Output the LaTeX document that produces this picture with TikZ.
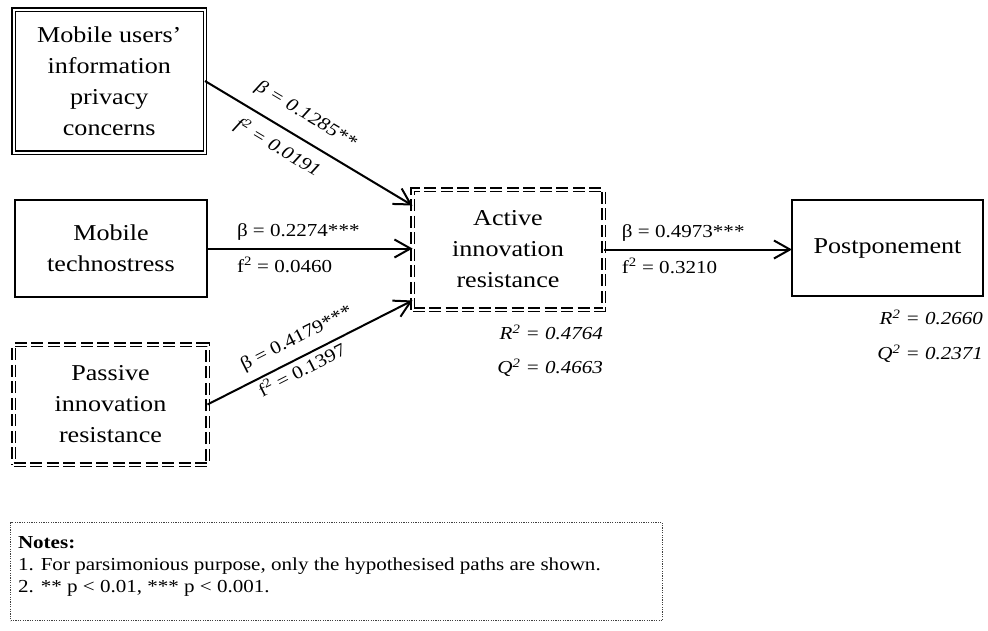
\documentclass[tikz,border=0pt]{standalone}
\usepackage{fontspec}
\setmainfont[FakeStretch=1.15]{Liberation Serif}
\usetikzlibrary{arrows.meta}

\begin{document}
\begin{tikzpicture}[x=1pt, y=-1pt,
  every node/.style={inner sep=0pt, outer sep=0pt},
  construct/.style={draw, line width=1.2pt, align=center,
    font=\fontsize{22.7}{31}\selectfont},
  dblbox/.style={construct, double, double distance=2pt, line width=1.1pt},
  dbldashbox/.style={dblbox, dash pattern=on 12pt off 4.5pt},
  link/.style={line width=2pt, -{Straight Barb[length=16pt,width=18pt]}},
  lbl/.style={font=\fontsize{18.3}{21}\selectfont, text height=13pt, text depth=4pt},
  stat/.style={font=\fontsize{18.3}{21}\selectfont\itshape, anchor=base east},
  notebox/.style={draw=black!75, line width=0.7pt, dash pattern=on 1.2pt off 1.2pt},
]
\useasboundingbox (0,0) rectangle (988,630);

% constructs
\node[dblbox, minimum width=191.5pt, minimum height=143pt] (privacy) at (109.25,81)
  {Mobile users’\\information\\privacy\\concerns};
\node[construct, minimum width=192pt, minimum height=97pt] (techno) at (111,248.5)
  {Mobile\\technostress};
\node[dbldashbox, minimum width=194pt, minimum height=120pt] (passive) at (110.5,404.5)
  {Passive\\innovation\\resistance};
\node[dbldashbox, minimum width=191pt, minimum height=120pt] (active) at (508,249.5)
  {Active\\innovation\\resistance};
\node[construct, minimum width=191pt, minimum height=96pt] (post) at (887.5,248)
  {Postponement};

% structural paths
\draw[link] (privacy.east) -- ([yshift=44pt]active.west)
  node[lbl, sloped, pos=0.43, anchor=south, outer ysep=14pt] {\itshape β = 0.1285**}
  node[lbl, sloped, pos=0.40, anchor=north, outer ysep=12.4pt] {\itshape f\textsuperscript{2} = 0.0191};
\draw[link] (techno.east) -- (techno.east -| active.west)
  node[lbl, pos=0.146, anchor=south west, outer ysep=8.5pt] {β = 0.2274***}
  node[lbl, pos=0.146, anchor=north west, outer ysep=10.5pt] {f\textsuperscript{2} = 0.0460};
\draw[link] (passive.east) -- ([yshift=-51pt]active.west)
  node[lbl, sloped, pos=0.476, anchor=south, outer ysep=9.8pt] {β = 0.4179***}
  node[lbl, sloped, pos=0.434, anchor=north, outer ysep=5.3pt] {f\textsuperscript{2} = 0.1397};
\draw[link] (active.east) -- (active.east -| post.west)
  node[lbl, pos=0.098, anchor=south west, outer ysep=8.5pt] {β = 0.4973***}
  node[lbl, pos=0.098, anchor=north west, outer ysep=10.5pt] {f\textsuperscript{2} = 0.3210};

% explained variance and predictive relevance
\node[stat] (activeR) at ([xshift=-0.5pt, yshift=-29.8pt]active.south east)
  {R\textsuperscript{2} = 0.4764};
\node[stat] (activeQ) at ([xshift=-0.5pt, yshift=-64.1pt]active.south east)
  {Q\textsuperscript{2} = 0.4663};
\node[stat] (postR) at ([yshift=-28.3pt]post.south east)
  {R\textsuperscript{2} = 0.2660};
\node[stat] (postQ) at ([yshift=-63.3pt]post.south east)
  {Q\textsuperscript{2} = 0.2371};

% notes
\node[notebox, minimum width=652pt, minimum height=98pt] (notes) at (336.5,571.5) {};
\node[font=\fontsize{18.3}{22}\selectfont, align=left, anchor=north west] (notestext)
  at ([xshift=7.5pt, yshift=-14pt]notes.north west)
  {\textbf{Notes:}\\1. For parsimonious purpose, only the hypothesised paths are shown.\\2. ** p < 0.01, *** p < 0.001.};
\end{tikzpicture}
\end{document}
